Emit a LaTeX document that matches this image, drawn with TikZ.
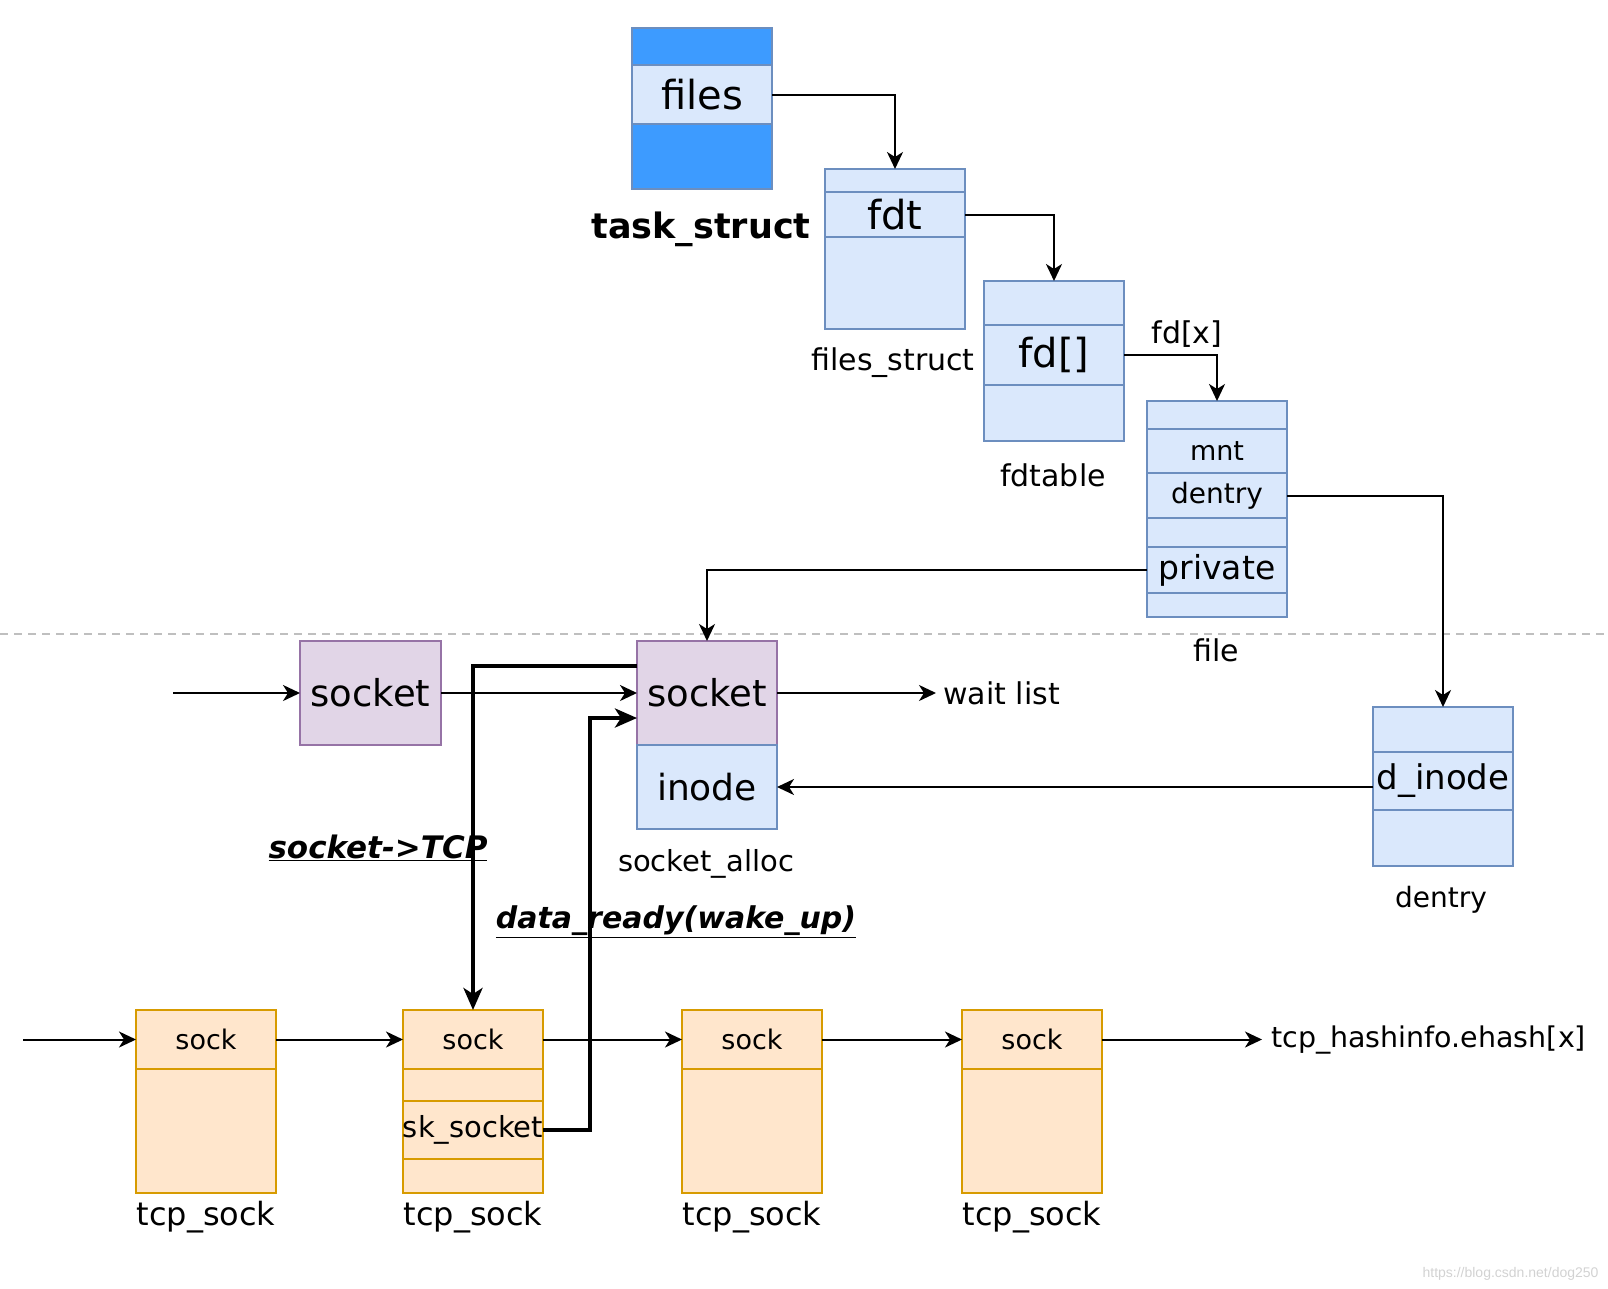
\documentclass[tikz,border=0pt]{standalone}
\usepackage{fontspec}
\setmainfont{DejaVu Sans}
\newfontfamily\markfont{Liberation Sans}
\usepackage{xcolor}
\usetikzlibrary{positioning, arrows.meta, calc}

\definecolor{blueFill}{HTML}{DAE8FC}
\definecolor{blueLine}{HTML}{6C8EBF}
\definecolor{taskFill}{HTML}{3D9BFF}
\definecolor{purpleFill}{HTML}{E1D5E7}
\definecolor{purpleLine}{HTML}{9673A6}
\definecolor{orangeFill}{HTML}{FFE6CC}
\definecolor{orangeLine}{HTML}{D79B00}

\tikzset{
  blueRow/.style={draw=blueLine, fill=blueFill, line width=2pt, minimum width=140pt, minimum height=#1, inner sep=0pt, outer sep=0pt},
  taskRow/.style={blueRow=#1, fill=taskFill},
  purpleRow/.style={blueRow=#1, draw=purpleLine, fill=purpleFill},
  orangeRow/.style={blueRow=#1, draw=orangeLine, fill=orangeFill},
  lbl/.style={font=\fontsize{30}{36}\selectfont, inner sep=2pt},
  arr/.style={line width=2pt, -{Stealth[length=17pt, width=16pt, inset=5pt]}},
  thickArr/.style={line width=4pt, -{Stealth[length=22pt, width=19pt, inset=6pt]}}
}

\begin{document}
\begin{tikzpicture}[x=1pt, y=-1pt]
  \useasboundingbox (0,0) rectangle (1608,1288);

  % task_struct
  \node[taskRow=37pt, anchor=north west] (tskTop) at (632,28) {};
  \node[blueRow=59pt, below=0pt of tskTop, font=\fontsize{40}{48}\selectfont] (tskFiles) {files};
  \node[taskRow=65pt, below=0pt of tskFiles] (tskBot) {};
  \node[lbl, font=\fontsize{35}{42}\selectfont\bfseries] at (701,229) {task\_struct};

  % files_struct
  \node[blueRow=23pt, anchor=north west] (fsTop) at (825,169) {};
  \node[blueRow=45pt, below=0pt of fsTop, font=\fontsize{40}{48}\selectfont] (fsFdt) {fdt};
  \node[blueRow=92pt, below=0pt of fsFdt] (fsBot) {};
  \node[lbl] at (893,363) {files\_struct};

  % fdtable
  \node[blueRow=44pt, anchor=north west] (fdtTop) at (984,281) {};
  \node[blueRow=60pt, below=0pt of fdtTop, font=\fontsize{40}{48}\selectfont] (fdtFd) {fd[]};
  \node[blueRow=56pt, below=0pt of fdtFd] (fdtBot) {};
  \node[lbl] at (1053,475) {fdtable};

  % file
  \node[blueRow=28pt, anchor=north west] (fileTop) at (1147,401) {};
  \node[blueRow=44pt, below=0pt of fileTop, font=\fontsize{27}{32}\selectfont] (fileMnt) {mnt};
  \node[blueRow=45pt, below=0pt of fileMnt, font=\fontsize{28}{34}\selectfont] (fileDentry) {dentry};
  \node[blueRow=29pt, below=0pt of fileDentry] (fileGap) {};
  \node[blueRow=46pt, below=0pt of fileGap, font=\fontsize{33}{40}\selectfont] (filePriv) {private};
  \node[blueRow=24pt, below=0pt of filePriv] (fileBot) {};
  \node[lbl] at (1216,650) {file};

  % socket and socket_alloc
  \node[purpleRow=104pt, minimum width=141pt, anchor=north west, font=\fontsize{37}{44}\selectfont] (sockLeft) at (300,641) {socket};
  \node[purpleRow=104pt, anchor=north west, font=\fontsize{37}{44}\selectfont] (saSock) at (637,641) {socket};
  \node[blueRow=84pt, below=0pt of saSock, font=\fontsize{36}{43}\selectfont] (saInode) {inode};
  \node[lbl, font=\fontsize{29}{35}\selectfont] at (706,864) {socket\_alloc};
  \node[lbl, anchor=west, inner sep=7pt] (waitList) at (936,693) {wait list};

  % dentry
  \node[blueRow=45pt, anchor=north west] (denTop) at (1373,707) {};
  \node[blueRow=58pt, below=0pt of denTop, font=\fontsize{34}{41}\selectfont] (denInode) {d\_inode};
  \node[blueRow=56pt, below=0pt of denInode] (denBot) {};
  \node[lbl, font=\fontsize{28}{34}\selectfont] at (1441,900) {dentry};

  % tcp_sock chain
  \foreach \i/\x in {1/136,2/403,3/682,4/962} {
    \node[orangeRow=59pt, anchor=north west, font=\fontsize{27}{32}\selectfont] (sock\i) at (\x,1010) {sock};
    \node[lbl, font=\fontsize{32}{38}\selectfont] at (\x+70,1217) {tcp\_sock};
  }
  \foreach \i in {1,3,4}
    \node[orangeRow=124pt, below=0pt of sock\i] (tcpBody\i) {};
  \node[orangeRow=32pt, below=0pt of sock2] (tcpGap) {};
  \node[orangeRow=58pt, below=0pt of tcpGap, font=\fontsize{29}{35}\selectfont] (skSock) {sk\_socket};
  \node[orangeRow=34pt, below=0pt of skSock] (tcpBot) {};
  \node[lbl, anchor=west, inner sep=9pt, font=\fontsize{28.5}{34}\selectfont] (hashInfo) at (1262,1040) {tcp\_hashinfo.ehash[x]};

  % separator
  \draw[gray!50, line width=1.2pt, dash pattern=on 8pt off 6pt] (0,634) -- (1608,634);

  % pointers
  \draw[arr] (tskFiles.east) -| (fsTop.north);
  \draw[arr] (fsFdt.east) -| (fdtTop.north);
  \draw[arr] (fdtFd.east) -| (fileTop.north);
  \node[lbl] at (1187,334) {fd[x]};
  \draw[arr] (fileDentry.east) -| (denTop.north);
  \draw[arr] (filePriv.west) -| (saSock.north);
  \draw[arr] (denInode.west |- saInode.east) -- (saInode.east);

  \coordinate (socketIn) at (173,693);
  \draw[arr] (socketIn |- sockLeft.west) -- (sockLeft.west);
  \draw[arr] (sockLeft.east) -- (saSock.west);
  \draw[arr] (saSock.east) -- (waitList.west |- saSock.east);

  \coordinate (sockIn) at (23,1040);
  \draw[arr] (sockIn |- sock1.west) -- (sock1.west);
  \foreach \a/\b in {1/2,2/3,3/4}
    \draw[arr] (sock\a.east) -- (sock\b.west);
  \draw[arr] (sock4.east) -- (hashInfo.west |- sock4.east);

  % socket <-> sock links
  \draw[thickArr] ([yshift=27pt]saSock.west) -| (sock2.north);
  \draw[thickArr] (skSock.east) -- ++(47,0) |- ([yshift=-25pt]saSock.west);
  \node[lbl, font=\fontsize{31}{37}\selectfont\bfseries\itshape] at (378,848) {\underline{socket->TCP}};
  \node[lbl, font=\fontsize{30}{36}\selectfont\bfseries\itshape] at (676,922) {\underline{data\_ready(wake\_up)}};

  \node[font=\markfont\fontsize{14}{17}\selectfont, text=gray!35, anchor=south east] at (1602,1284) {https://blog.csdn.net/dog250};
\end{tikzpicture}
\end{document}
